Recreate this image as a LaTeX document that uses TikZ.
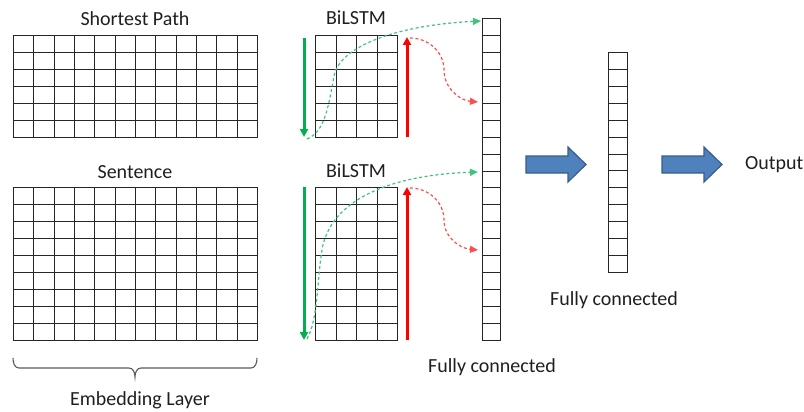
\documentclass[tikz,border=0pt]{standalone}
\usepackage{fontspec}
\setmainfont{Carlito}
\usetikzlibrary{arrows.meta}

\definecolor{gridcol}{HTML}{262626}
\definecolor{txtcol}{HTML}{1F1F1F}
\definecolor{fwdgreen}{HTML}{00B050}
\definecolor{bwdred}{HTML}{FF0000}
\definecolor{blockfill}{HTML}{4F81BD}
\definecolor{blockline}{HTML}{385D8A}
\definecolor{bracecol}{HTML}{595959}

\tikzset{
  gridbox/.style={inner sep=0pt, outer sep=0pt, draw=none},
  gridline/.style={draw=gridcol, line width=1.1pt, line cap=rect},
  lbl/.style={text=txtcol, font=\fontsize{20}{24}\selectfont, inner sep=0pt, anchor=base},
  fwdarrow/.style={draw=fwdgreen, line width=3pt, -{Triangle[length=8pt,width=8pt]}},
  bwdarrow/.style={draw=bwdred, line width=3pt, -{Triangle[length=8pt,width=8pt]}},
  fwdflow/.style={draw=fwdgreen!75, line width=1.2pt, dash pattern=on 3pt off 2.5pt,
    -{Triangle[length=8pt,width=7pt]}},
  bwdflow/.style={draw=bwdred!70, line width=1.2pt, dash pattern=on 3pt off 2.5pt,
    -{Triangle[length=8pt,width=7pt]}},
  blockarrow/.style={fill=blockfill, draw=blockline, line width=1.2pt, line join=miter},
  bracket/.style={draw=bracecol, line width=1.1pt},
}

% name, left, top, columns, rows, cell width, cell height
% (rules are snapped to whole units so that they stay crisp)
\newcommand\cellgrid[7]{%
  \node[gridbox, minimum width={#4*#6*1pt}, minimum height={#5*#7*1pt},
        anchor=north west] (#1) at (#2,#3) {};
  \foreach \i in {0,...,#4}
    \draw[gridline] ({round(#2+\i*#6)+0.5},{#3+0.5})
      -- ({round(#2+\i*#6)+0.5},{round(#3+#5*#7)+0.5});
  \foreach \j in {0,...,#5}
    \draw[gridline] ({#2+0.5},{round(#3+\j*#7)+0.5})
      -- ({round(#2+#4*#6)+0.5},{round(#3+\j*#7)+0.5});
}

\begin{document}
\begin{tikzpicture}[x=1pt, y=-1pt]
  \useasboundingbox (0,0) rectangle (804,412);

  % embedding matrices
  \cellgrid{spgrid}{13}{35}{12}{6}{20.333}{17}
  \cellgrid{sngrid}{13}{187}{12}{9}{20.333}{17}
  % BiLSTM outputs
  \cellgrid{bltop}{315}{35}{4}{6}{20.5}{17}
  \cellgrid{blbot}{315}{187}{4}{9}{20.5}{17}
  % fully connected layers
  \cellgrid{fcone}{482}{18}{1}{19}{18}{16.947}
  \cellgrid{fctwo}{608}{52}{1}{13}{19}{16.923}

  % labels
  \node[lbl] (sptext) at (135,26) {Shortest Path};
  \node[lbl] (sntext) at (135,178) {Sentence};
  \node[lbl] (bltext1) at (356,25) {BiLSTM};
  \node[lbl] (bltext2) at (356,177) {BiLSTM};
  \node[lbl, anchor=base west] (outtext) at (745,169) {Output};
  \node[lbl] (fctext2) at (614,305) {Fully connected};
  \node[lbl] (fctext1) at (492,372) {Fully connected};
  \node[lbl] (embtext) at (140,405) {Embedding Layer};

  % direction markers of the two LSTM passes
  \coordinate (gs1) at (304,38);  \coordinate (ge1) at (304,137);
  \coordinate (rs1) at (407,137); \coordinate (re1) at (407,37);
  \coordinate (gs2) at (304,187); \coordinate (ge2) at (304,340);
  \coordinate (rs2) at (407,340); \coordinate (re2) at (407,187);
  \draw[fwdarrow] (gs1) -- (ge1);
  \draw[bwdarrow] (rs1) -- (re1);
  \draw[fwdarrow] (gs2) -- (ge2);
  \draw[bwdarrow] (rs2) -- (re2);

  % hidden states flowing into the first dense layer
  \coordinate (gf1) at (307,139); \coordinate (gt1) at (481,21);
  \coordinate (rf1) at (410,38);  \coordinate (rt1) at (478,102);
  \coordinate (gf2) at (307,339); \coordinate (gt2) at (478,172);
  \coordinate (rf2) at (410,188); \coordinate (rt2) at (478,250);
  \draw[fwdflow] (gf1) .. controls (324,132) and (328,110) .. (334,76)
                 .. controls (340,45) and (400,25) .. (gt1);
  \draw[bwdflow] (rf1) to[out=0, in=90] (444,70) to[out=-90, in=175] (rt1);
  \draw[fwdflow] (gf2) .. controls (318,320) and (317,280) .. (322,250)
                 .. controls (330,200) and (390,175) .. (gt2);
  \draw[bwdflow] (rf2) to[out=0, in=90] (444,220) to[out=-90, in=175] (rt2);

  % block arrows between the dense layers
  \draw[blockarrow] (526,156) -- (568,156) -- (568,147) -- (586,164.5)
    -- (568,182) -- (568,173) -- (526,173) -- cycle;
  \draw[blockarrow] (662,156) -- (704,156) -- (704,147) -- (722,164.5)
    -- (704,182) -- (704,173) -- (662,173) -- cycle;

  % brace under the embedding matrices
  \draw[bracket] (13,358) to[out=-90, in=180] (19,368) -- (129,368)
    to[out=0, in=90] (135,377) to[out=90, in=180] (141,368) -- (251,368)
    to[out=0, in=-90] (257,358);
\end{tikzpicture}
\end{document}
